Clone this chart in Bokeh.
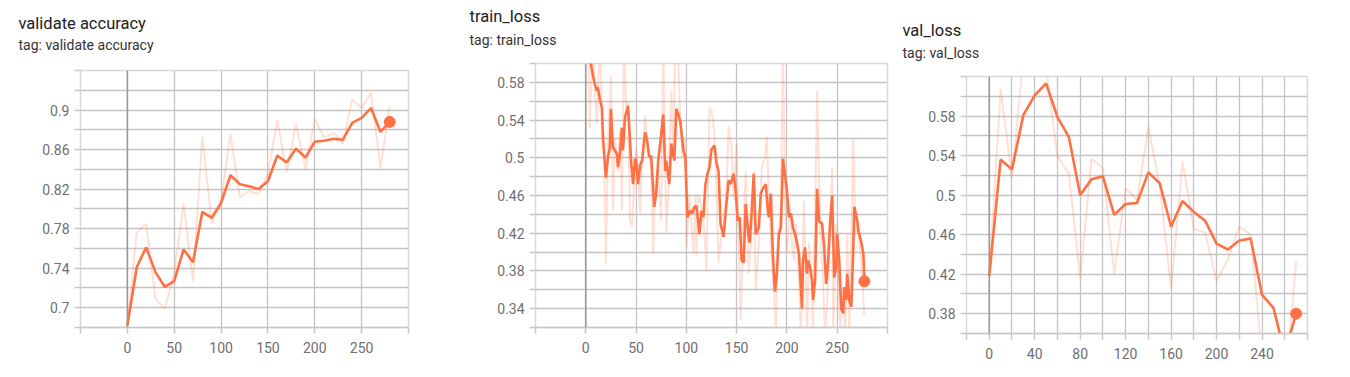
from bokeh.plotting import figure
from bokeh.layouts import row
from bokeh.models import FixedTicker, Range1d, Span, Title, PrintfTickFormatter
from bokeh.embed import file_html
from bokeh.resources import INLINE

ORANGE = "#ff7043"

# ---------------- validate accuracy ----------------
acc_steps = [0, 10, 20, 30, 40, 50, 60, 70, 80, 90, 100, 110, 120, 130, 140,
             150, 160, 170, 180, 190, 200, 210, 220, 230, 240, 250, 260, 270, 280]
acc_smoothed = [0.682, 0.741, 0.761, 0.736, 0.721, 0.727, 0.759, 0.746, 0.797, 0.791,
                0.806, 0.834, 0.825, 0.823, 0.820, 0.828, 0.854, 0.847, 0.861, 0.852,
                0.868, 0.869, 0.871, 0.870, 0.887, 0.892, 0.902, 0.878, 0.888]
acc_raw = [0.682, 0.776, 0.785, 0.709, 0.699, 0.735, 0.805, 0.727, 0.873, 0.785,
           0.808, 0.876, 0.812, 0.818, 0.815, 0.835, 0.890, 0.837, 0.886, 0.840,
           0.891, 0.872, 0.877, 0.866, 0.911, 0.902, 0.918, 0.841, 0.904]
acc_yticks = [0.7, 0.74, 0.78, 0.82, 0.86, 0.9]
acc_yminor = [0.68, 0.72, 0.76, 0.8, 0.84, 0.88, 0.92, 0.94]

# ---------------- train_loss ----------------
tl_steps = [0, 3, 5, 7, 9, 11, 12, 14, 16, 17, 20, 22, 24, 25, 27, 29, 31, 32, 34, 36,
            37, 39, 42, 44, 45, 47, 49, 50, 52, 54, 56, 59, 61, 63, 65, 68, 70, 72, 74, 77,
            79, 80, 83, 85, 88, 90, 92, 94, 97, 99, 101, 104, 106, 108, 110, 113, 115, 117, 119, 121,
            123, 125, 128, 130, 132, 134, 137, 139, 142, 144, 147, 149, 151, 153, 155, 157, 159, 162, 163, 165,
            167, 169, 172, 174, 177, 179, 181, 182, 184, 186, 188, 190, 192, 194, 196, 198, 200, 202, 204, 206,
            208, 210, 212, 215, 216, 218, 220, 221, 223, 225, 226, 228, 230, 232, 235, 237, 239, 241, 243, 245,
            247, 249, 250, 252, 254, 256, 257, 259, 260, 262, 264, 266, 267, 270, 271, 274, 276, 277]
tl_smoothed = [0.660, 0.625, 0.600, 0.588, 0.578, 0.571, 0.575, 0.562, 0.553, 0.522, 0.479, 0.500, 0.512, 0.552, 0.511, 0.508, 0.504, 0.490, 0.505, 0.532,
               0.508, 0.543, 0.555, 0.518, 0.497, 0.472, 0.499, 0.497, 0.472, 0.492, 0.497, 0.527, 0.518, 0.501, 0.502, 0.448, 0.462, 0.497, 0.515, 0.546,
               0.486, 0.497, 0.472, 0.515, 0.497, 0.552, 0.546, 0.538, 0.508, 0.501, 0.437, 0.444, 0.441, 0.448, 0.449, 0.419, 0.444, 0.437, 0.472, 0.483,
               0.490, 0.509, 0.513, 0.494, 0.486, 0.430, 0.416, 0.441, 0.476, 0.472, 0.483, 0.465, 0.433, 0.437, 0.391, 0.389, 0.451, 0.416, 0.410, 0.444,
               0.483, 0.419, 0.426, 0.462, 0.469, 0.472, 0.444, 0.437, 0.462, 0.398, 0.358, 0.377, 0.419, 0.426, 0.499, 0.483, 0.465, 0.437, 0.441, 0.426,
               0.419, 0.410, 0.398, 0.340, 0.391, 0.405, 0.377, 0.391, 0.384, 0.370, 0.349, 0.370, 0.467, 0.433, 0.430, 0.405, 0.366, 0.391, 0.433, 0.460,
               0.373, 0.384, 0.419, 0.391, 0.340, 0.335, 0.363, 0.349, 0.377, 0.349, 0.342, 0.405, 0.448, 0.433, 0.423, 0.410, 0.398, 0.369]
tl_raw_steps = [0, 2, 4, 7, 9, 11, 14, 16, 18, 20, 22, 25, 27, 29, 32, 34, 36, 38, 40, 42,
                44, 46, 48, 50, 52, 54, 56, 59, 62, 65, 67, 69, 72, 75, 77, 80, 82, 85, 87, 89,
                91, 94, 96, 99, 100, 103, 107, 109, 110, 112, 115, 118, 120, 123, 125, 127, 129, 132, 134, 137,
                140, 142, 145, 147, 150, 152, 154, 157, 159, 162, 164, 167, 169, 172, 175, 178, 180, 182, 184, 187,
                189, 191, 194, 196, 198, 200, 203, 205, 207, 209, 211, 214, 217, 220, 222, 224, 226, 230, 233, 235,
                238, 241, 245, 246, 249, 251, 253, 255, 258, 260, 262, 266, 268, 270, 273, 277]
tl_raw = [0.660, 0.640, 0.532, 0.630, 0.570, 0.536, 0.630, 0.557, 0.520, 0.388, 0.515, 0.587, 0.444, 0.520, 0.486, 0.530, 0.444, 0.630, 0.554, 0.560,
          0.433, 0.427, 0.470, 0.510, 0.490, 0.441, 0.500, 0.545, 0.510, 0.490, 0.398, 0.470, 0.490, 0.433, 0.630, 0.420, 0.460, 0.571, 0.500, 0.630,
          0.630, 0.543, 0.500, 0.520, 0.405, 0.462, 0.398, 0.460, 0.395, 0.460, 0.450, 0.420, 0.380, 0.554, 0.550, 0.536, 0.500, 0.388, 0.410, 0.430,
          0.470, 0.534, 0.510, 0.455, 0.515, 0.410, 0.328, 0.430, 0.486, 0.377, 0.410, 0.486, 0.359, 0.410, 0.490, 0.500, 0.522, 0.460, 0.410, 0.359,
          0.310, 0.420, 0.440, 0.630, 0.460, 0.400, 0.450, 0.410, 0.390, 0.430, 0.400, 0.310, 0.455, 0.310, 0.410, 0.380, 0.310, 0.571, 0.430, 0.390,
          0.310, 0.370, 0.490, 0.310, 0.430, 0.400, 0.310, 0.360, 0.310, 0.420, 0.310, 0.520, 0.420, 0.430, 0.400, 0.333]
tl_yticks = [0.34, 0.38, 0.42, 0.46, 0.5, 0.54, 0.58]
tl_yminor = [0.32, 0.36, 0.4, 0.44, 0.48, 0.52, 0.56, 0.6]

# ---------------- val_loss ----------------
vl_steps = [0, 10, 20, 30, 40, 50, 60, 70, 80, 90, 100, 110, 120, 130,
            140, 150, 160, 170, 180, 190, 200, 210, 220, 230, 240, 250, 260, 270]
vl_smoothed = [0.418, 0.536, 0.526, 0.581, 0.601, 0.613, 0.579, 0.559, 0.500, 0.516,
               0.519, 0.480, 0.491, 0.492, 0.523, 0.512, 0.468, 0.494, 0.483, 0.474,
               0.451, 0.445, 0.454, 0.456, 0.399, 0.386, 0.340, 0.380]
vl_raw = [0.418, 0.607, 0.517, 0.640, 0.625, 0.630, 0.539, 0.522, 0.416, 0.537,
          0.527, 0.420, 0.507, 0.495, 0.569, 0.510, 0.405, 0.534, 0.466, 0.462,
          0.413, 0.435, 0.468, 0.460, 0.335, 0.360, 0.300, 0.433]
vl_yticks = [0.38, 0.42, 0.46, 0.5, 0.54, 0.58]
vl_yminor = [0.36, 0.4, 0.44, 0.48, 0.52, 0.56, 0.6, 0.62]

x_ticks_50 = [0, 50, 100, 150, 200, 250]
x_minor_50 = [-50, 300]
x_ticks_40 = [0, 40, 80, 120, 160, 200, 240]
x_minor_40 = [-20, 20, 60, 100, 140, 180, 220, 260, 280]


def panel(title, steps, smooth, rsteps, raw, xr, yr, xt, xm, yt, ym,
          borders, tpos):
    left, right, top, bottom = borders
    p = figure(width=450, height=377, output_backend="svg", toolbar_location=None,
               x_range=Range1d(*xr), y_range=Range1d(*yr),
               min_border_left=left, min_border_right=right,
               min_border_top=top, min_border_bottom=bottom,
               background_fill_color="white", border_fill_color="white")
    p.outline_line_color = "#d9d9d9"
    p.outline_line_width = 1.5
    for ax, ticks, minor in ((p.xaxis[0], xt, xm), (p.yaxis[0], yt, ym)):
        ax.ticker = FixedTicker(ticks=ticks, minor_ticks=minor)
        ax.major_label_text_font = "Roboto"
        ax.major_label_text_font_size = "14px"
        ax.major_label_text_color = "#6f6f6f"
        ax.major_tick_line_color = "#c8c8c8"
        ax.minor_tick_line_color = "#c8c8c8"
        ax.major_tick_in = 0
        ax.minor_tick_in = 0
        ax.major_tick_out = 6
        ax.minor_tick_out = 6
        ax.major_tick_line_width = 1.5
        ax.minor_tick_line_width = 1.5
    p.xaxis.axis_line_color = "#c8c8c8"
    p.xaxis.axis_line_width = 1.5
    p.yaxis.axis_line_color = None
    p.xaxis.major_label_standoff = 8
    p.yaxis.major_label_standoff = 5
    p.yaxis.formatter = PrintfTickFormatter(format="%.3g")
    for g in (p.xgrid[0], p.ygrid[0]):
        g.grid_line_color = "#c4c4c4"
        g.grid_line_width = 1.3
        g.minor_grid_line_color = "#c4c4c4"
        g.minor_grid_line_width = 1.3
    p.add_layout(Span(location=0, dimension="height", line_color="#999999", line_width=1.5))
    p.line(rsteps, raw, line_color=ORANGE, line_alpha=0.22, line_width=2)
    p.line(steps, smooth, line_color=ORANGE, line_width=2.6)
    p.scatter([steps[-1]], [smooth[-1]], size=11, fill_color=ORANGE, line_color=ORANGE)
    off, spacer, title_standoff = tpos
    # white (invisible) spacer between the frame and the subtitle
    p.add_layout(Title(text=" ", text_font_size="1px", text_color="white", standoff=spacer), "above")
    p.add_layout(Title(text="tag: " + title, align="left", offset=off, standoff=0,
                       text_font="Roboto", text_font_size="14px", text_color="#333333",
                       text_font_style="normal"), "above")
    p.add_layout(Title(text=title, align="left", offset=off, standoff=title_standoff,
                       text_font="Roboto", text_font_size="16.5px", text_color="#212121",
                       text_font_style="normal"), "above")
    return p


p1 = panel("validate accuracy", acc_steps, acc_smoothed, acc_steps, acc_raw,
           (-50, 300), (0.68, 0.94), x_ticks_50, x_minor_50, acc_yticks, acc_yminor,
           (80, 42, 70, 50), (-62, 14.9, 2.2))
p2 = panel("train_loss", tl_steps, tl_smoothed, tl_raw_steps, tl_raw,
           (-50, 300), (0.32, 0.60), x_ticks_50, x_minor_50, tl_yticks, tl_yminor,
           (85, 13, 63, 50), (-66, 12.4, 6.6))
p3 = panel("val_loss", vl_steps, vl_smoothed, vl_steps, vl_raw,
           (-20, 280), (0.36, 0.62), x_ticks_40, x_minor_40, vl_yticks, vl_yminor,
           (66, 43, 76, 44), (-64, 12.6, 6.0))

try:
    from bokeh.core.templates import get_env
    tpl = get_env().from_string(
        '{% extends "file.html" %}'
        '{% block postamble %}<style>body{display:flex !important;flex-direction:row;'
        'align-items:flex-start;margin:0;}</style>{% endblock %}')
    html = file_html([p1, p2, p3], INLINE, template=tpl)
except Exception:
    html = file_html(row(p1, p2, p3, spacing=0), INLINE)
open("out.html", "w").write(html)
